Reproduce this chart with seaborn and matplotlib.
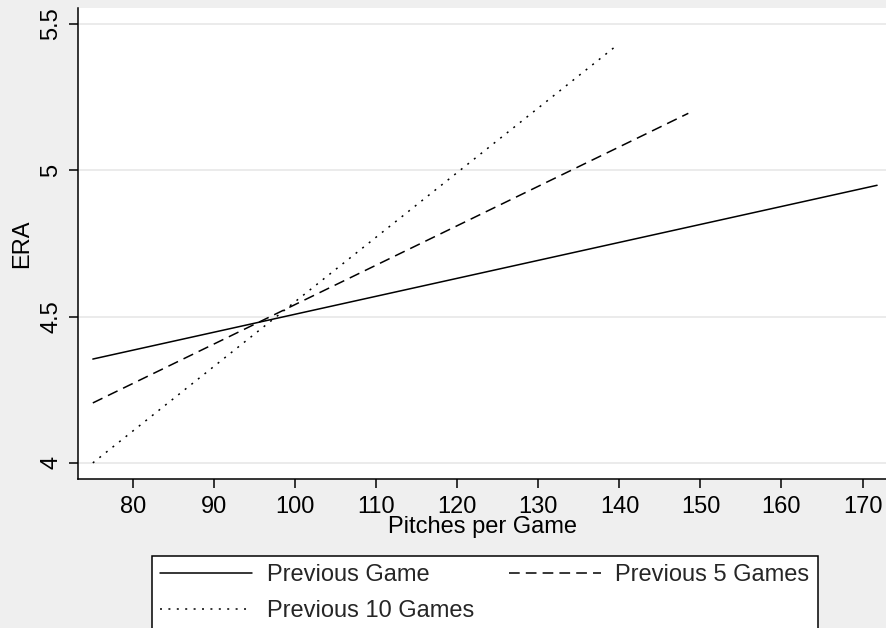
import matplotlib
matplotlib.use("Agg")
import matplotlib.pyplot as plt
import seaborn as sns
import pandas as pd

# Data (predicted ERA lines, endpoints)
series_names = ["Previous Game", "Previous 5 Games", "Previous 10 Games"]
game1_x = [75.0, 171.8]
game1_y = [4.355, 4.949]
games5_x = [75.0, 148.5]
games5_y = [4.205, 5.195]
games10_x = [75.0, 139.8]
games10_y = [4.000, 5.430]
y_ticks = [4, 4.5, 5, 5.5]
y_tick_labels = ["4", "4.5", "5", "5.5"]
x_ticks = [80, 90, 100, 110, 120, 130, 140, 150, 160, 170]

df = pd.concat([
    pd.DataFrame({"x": game1_x, "y": game1_y, "series": series_names[0]}),
    pd.DataFrame({"x": games5_x, "y": games5_y, "series": series_names[1]}),
    pd.DataFrame({"x": games10_x, "y": games10_y, "series": series_names[2]}),
], ignore_index=True)

sns.set_theme(style="white")
plt.rcParams["font.family"] = ["Liberation Sans", "DejaVu Sans"]

BG = "#efefef"
FS = 17

fig = plt.figure(figsize=(8.86, 6.28), dpi=100, facecolor=BG)
ax = fig.add_axes([78.4 / 886, 1 - 479 / 628, 1 - 78.4 / 886, (479 - 8) / 628])
ax.set_facecolor("white")

sns.lineplot(
    data=df, x="x", y="y", hue="series", style="series",
    hue_order=series_names, style_order=series_names,
    palette={n: "black" for n in series_names},
    dashes={series_names[0]: "", series_names[1]: (7, 4), series_names[2]: (1.3, 4.2)},
    linewidth=1.1, ax=ax, sort=True, estimator=None,
)

ax.set_xlim(73.22, 172.9)
ax.set_ylim(3.945, 5.555)
ax.set_xticks(x_ticks)
ax.set_xticklabels([str(t) for t in x_ticks])
ax.set_yticks(y_ticks)
ax.set_yticklabels(y_tick_labels, rotation=90, va="center")
ax.grid(axis="y", color="#e8e8e8", linewidth=1.2)
ax.grid(axis="x", visible=False)
ax.set_axisbelow(True)

for side in ["top", "right"]:
    ax.spines[side].set_visible(False)
for side in ["left", "bottom"]:
    ax.spines[side].set_color("black")
    ax.spines[side].set_linewidth(1.1)

ax.tick_params(axis="both", which="major", direction="out", length=6.5, width=1.1,
               color="black", labelsize=FS, labelcolor="black", left=True, bottom=True)
ax.tick_params(axis="x", pad=6)
ax.tick_params(axis="y", pad=5)

ax.set_xlabel("")
ax.set_ylabel("")
fig.text(483 / 886, 1 - 527 / 628, "Pitches per Game", ha="center", va="center",
         fontsize=FS, color="black")
fig.text(22 / 886, 0.5 * ((1 - 479 / 628) + (1 - 8 / 628)), "ERA", rotation=90,
         ha="center", va="center", fontsize=FS, color="black")

handles, labels = ax.get_legend_handles_labels()
lh = dict(zip(labels, handles))
ax.get_legend().remove()
order = [series_names[0], series_names[2], series_names[1]]
leg = fig.legend([lh[n] for n in order], order, ncol=2, loc="upper left",
                 bbox_to_anchor=(152 / 886, 1 - 556 / 628), borderaxespad=0,
                 fontsize=FS, frameon=True, fancybox=False, edgecolor="black",
                 facecolor="white", framealpha=1, handlelength=3.9, handletextpad=0.6,
                 columnspacing=1.5, labelspacing=0.6, borderpad=0.35)
leg.get_frame().set_linewidth(1.1)

fig.savefig("out.png", dpi=100, facecolor=BG)
